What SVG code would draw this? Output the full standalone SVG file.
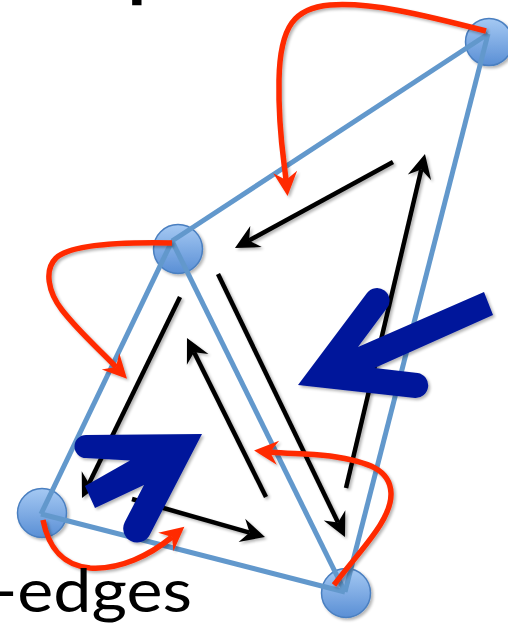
<svg xmlns="http://www.w3.org/2000/svg" width="508" height="623" viewBox="0 0 508 623">
<defs>
<style>
.edge{stroke:#6298cc;stroke-width:5;fill:none;stroke-linecap:butt}
.blk{stroke:#000;stroke-width:4.5;fill:none;marker-end:url(#ahK)}
.red{stroke:#ff2a00;stroke-width:5.5;fill:none;marker-end:url(#ahR)}
.node{fill:url(#nodeGrad);stroke:#4a7fc0;stroke-width:1.5}
.big{fill:#04199b}
.lbl{font-family:Lato,"Liberation Sans",sans-serif;fill:#000}
</style>
<linearGradient id="nodeGrad" x1="0" y1="0" x2="0" y2="1">
<stop offset="0" stop-color="#a5c9f3"/>
<stop offset="1" stop-color="#5a8fd5"/>
</linearGradient>
<filter id="sh" filterUnits="userSpaceOnUse" x="0" y="0" width="508" height="623">
<feGaussianBlur in="SourceAlpha" stdDeviation="1.5"/>
<feOffset dx="1.5" dy="2"/>
<feComponentTransfer><feFuncA type="linear" slope="0.3"/></feComponentTransfer>
<feMerge><feMergeNode/><feMergeNode in="SourceGraphic"/></feMerge>
</filter>
<marker id="ahK" markerUnits="userSpaceOnUse" markerWidth="30" markerHeight="26" viewBox="-10 -13 30 26" refX="0" refY="0" orient="auto" overflow="visible">
<path d="M16,0 L-8,-12 L0,0 L-8,12 Z" fill="#000"/>
</marker>
<marker id="ahR" markerUnits="userSpaceOnUse" markerWidth="30" markerHeight="26" viewBox="-10 -13 30 26" refX="0" refY="0" orient="auto" overflow="visible">
<path d="M16,0 L-8,-12 L0,0 L-8,12 Z" fill="#ff2a00"/>
</marker>
</defs>
<rect width="508" height="623" fill="#fff"/>
<text class="lbl" x="127.5" y="-8" font-size="76" font-weight="bold">p</text>
<g filter="url(#sh)">
<g id="node-tr"><circle class="node" cx="489" cy="42" r="23.5"/></g>
<g id="node-ml"><circle class="node" cx="178" cy="249" r="24.5"/></g>
<g id="node-bl"><circle class="node" cx="42" cy="513" r="24.5"/></g>
<g id="node-b"><circle class="node" cx="346" cy="593" r="24.5"/></g>
</g>
<g id="connectors">
<g id="edges">
<line class="edge" x1="488" y1="34" x2="172" y2="241"/>
<line class="edge" x1="488" y1="34" x2="345" y2="592"/>
<line class="edge" x1="172" y1="241" x2="41" y2="514"/>
<line class="edge" x1="172" y1="241" x2="345" y2="592"/>
<line class="edge" x1="41" y1="514" x2="345" y2="592"/>
</g>
<g id="half-edges" filter="url(#sh)">
<line class="blk" x1="393" y1="162" x2="249" y2="240.4"/>
<line class="blk" x1="346" y1="488" x2="421.3" y2="169.6"/>
<line class="blk" x1="218" y1="274" x2="338" y2="522.6"/>
<line class="blk" x1="180" y1="297" x2="89" y2="483.6"/>
<line class="blk" x1="266" y1="497" x2="194.1" y2="352.3"/>
<line class="blk" x1="132" y1="499" x2="249.6" y2="532.6"/>
</g>
<g id="next-links" filter="url(#sh)">
<path class="red" d="M486,31 C420,14 370,2 330,5 C295,8 280,25 279,80 C278,130 284,160 286,180"/>
<path class="red" d="M172,243 C120,242 70,245 56,258 C44,270 48,292 62,310 C80,333 100,350 116,367"/>
<path class="red" d="M43,520 C48,545 60,565 90,568 C120,570 150,555 172,537"/>
<path class="red" d="M334,585 C360,550 392,520 391,493 C390,470 370,462 330,456 C305,453 290,454 270,452"/>
</g>
</g>
<g id="pointers" filter="url(#sh)">
<path class="big" d="M298,385 L367,293 A12.5,12.5 0 0 1 387,308 L358,347 L484,292 L493,315 L374.5,368 L417.75,373 A12.6,12.6 0 0 1 415,398 Z"/>
<path class="big" d="M202,434 L86,435 A11.5,11.5 0 0 0 86,458 L130,460.5 L85,486 L95,508 L144,485 L124.8,522 A14,14 0 0 0 149.7,534.9 Z"/>
</g>
<text class="lbl" x="-8" y="612" font-size="60" textLength="200" lengthAdjust="spacingAndGlyphs">-edges</text>
</svg>
